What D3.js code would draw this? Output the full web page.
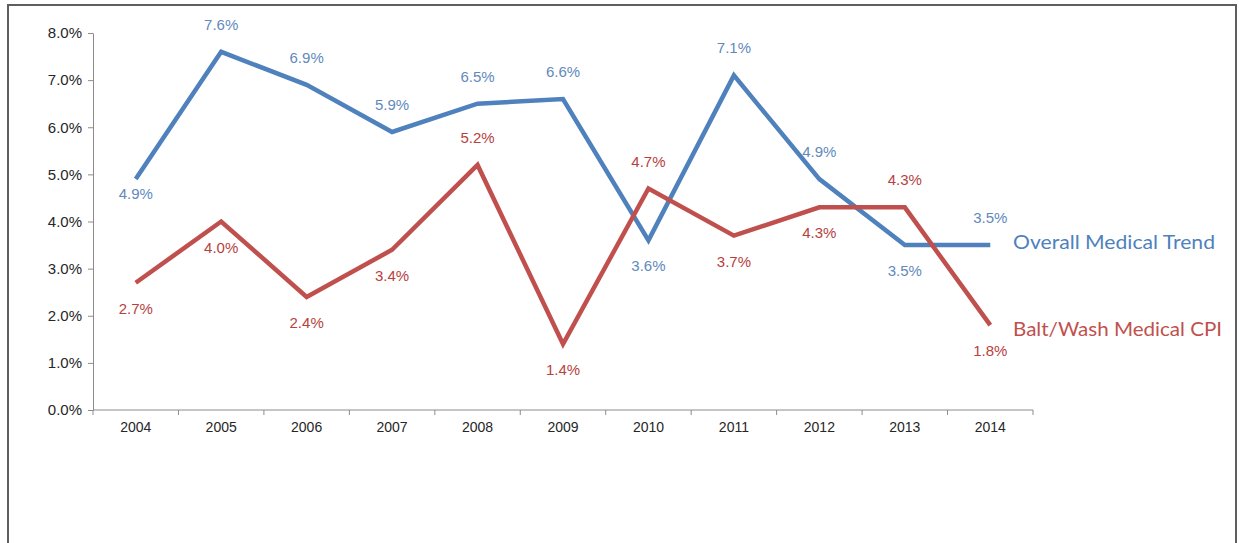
<!DOCTYPE html>
<html>
<head>
<meta charset="utf-8">
<script src="https://cdn.jsdelivr.net/npm/d3@7"></script>
<style>
  body { margin: 0; background: #fff; }
  text { font-family: "Liberation Sans", Arial, sans-serif; }
</style>
</head>
<body>
<script>
// chart data
const years = ["2004", "2005", "2006", "2007", "2008", "2009", "2010", "2011", "2012", "2013", "2014"];
const overallTrend = [4.9, 7.6, 6.9, 5.9, 6.5, 6.6, 3.6, 7.1, 4.9, 3.5, 3.5];
const baltWashCpi = [2.7, 4.0, 2.4, 3.4, 5.2, 1.4, 4.7, 3.7, 4.3, 4.3, 1.8];
const yTicks = [0, 1, 2, 3, 4, 5, 6, 7, 8];
// where each value label sits relative to its point
const overallLabelSide = ["near", "above", "above", "above", "above", "above", "below", "above", "above", "below", "above"];
const cpiLabelSide = ["below", "below", "below", "below", "above", "below", "above", "below", "below", "above", "below"];

const w = 1239;
const h = 543;
const padLeft = 93, padRight = 1033, padTop = 33, padBottom = 410;

const svg = d3.select("body")
  .append("svg")
  .attr("width", w)
  .attr("height", h);

// outer frame (left, top, right edges)
svg.append("path")
  .attr("d", "M8,543 L8,5 L1236,5 L1236,543")
  .attr("fill", "none")
  .attr("stroke", "#5e5e5e")
  .attr("stroke-width", 2);

const xScale = d3.scaleBand()
  .domain(years)
  .range([padLeft, padRight]);

const yScale = d3.scaleLinear()
  .domain([0, 8])
  .range([padBottom, padTop]);

const cx = (i) => xScale(years[i]) + xScale.bandwidth() / 2;

// y axis
const yAxis = d3.axisLeft(yScale)
  .tickValues(yTicks)
  .tickFormat((d) => d.toFixed(1) + "%")
  .tickSize(5)
  .tickSizeOuter(0);

const gy = svg.append("g")
  .attr("transform", "translate(" + padLeft + ",0)")
  .call(yAxis);
gy.select(".domain").attr("stroke", "#8c8c8c");
gy.selectAll(".tick line").attr("stroke", "#8c8c8c");
gy.selectAll(".tick text")
  .attr("fill", "#262626")
  .style("font-size", "15px")
  .attr("x", -11);

// x axis: ticks sit on the category boundaries
const gx = svg.append("g")
  .attr("transform", "translate(0," + padBottom + ")");
gx.append("line")
  .attr("x1", padLeft).attr("x2", padRight)
  .attr("stroke", "#8c8c8c");
gx.selectAll(".xt")
  .data(years.concat(["end"]))
  .enter()
  .append("line")
  .attr("class", "xt")
  .attr("x1", (d, i) => padLeft + i * xScale.bandwidth())
  .attr("x2", (d, i) => padLeft + i * xScale.bandwidth())
  .attr("y1", 0)
  .attr("y2", 5)
  .attr("stroke", "#8c8c8c");
gx.selectAll(".xl")
  .data(years)
  .enter()
  .append("text")
  .attr("class", "xl")
  .attr("x", (d, i) => cx(i))
  .attr("y", 22)
  .attr("text-anchor", "middle")
  .style("font-size", "14px")
  .attr("fill", "#262626")
  .text((d) => d);

const line = d3.line()
  .x((d, i) => cx(i))
  .y((d) => yScale(d));

const series = [
  { values: overallTrend, sides: overallLabelSide, color: "#4f81bd", text: "#6189bd", name: "Overall Medical Trend" },
  { values: baltWashCpi, sides: cpiLabelSide, color: "#c0504d", text: "#b8413e", name: "Balt/Wash Medical CPI" }
];

const labelShift = { above: -22, below: 31, near: 20 };

series.forEach((s) => {
  svg.append("path")
    .datum(s.values)
    .attr("d", line)
    .attr("fill", "none")
    .attr("stroke", s.color)
    .attr("stroke-width", 4.5)
    .attr("stroke-linejoin", "miter");

  svg.append("g")
    .selectAll("text")
    .data(s.values)
    .enter()
    .append("text")
    .attr("x", (d, i) => cx(i))
    .attr("y", (d, i) => yScale(d) + labelShift[s.sides[i]])
    .attr("text-anchor", "middle")
    .style("font-size", "15px")
    .attr("fill", s.text)
    .text((d) => d.toFixed(1) + "%");
});

// series names at the line ends
svg.append("text")
  .attr("x", 1013)
  .attr("y", 249)
  .style("font-family", "Lato, 'Open Sans', sans-serif")
  .style("font-size", "19px")
  .attr("textLength", 202)
  .attr("lengthAdjust", "spacingAndGlyphs")
  .attr("fill", "#4f81bd")
  .text(series[0].name);

svg.append("text")
  .attr("x", 1013)
  .attr("y", 336)
  .style("font-family", "Lato, 'Open Sans', sans-serif")
  .style("font-size", "19px")
  .attr("textLength", 209)
  .attr("lengthAdjust", "spacingAndGlyphs")
  .attr("fill", "#c0504d")
  .text(series[1].name);
</script>
</body>
</html>
